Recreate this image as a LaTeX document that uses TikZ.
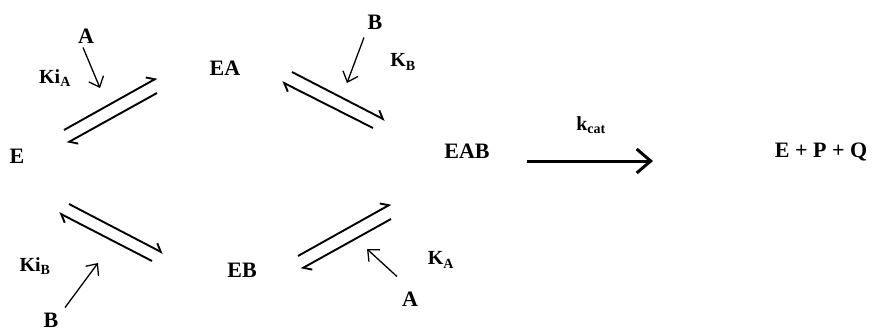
\documentclass[tikz,border=0pt]{standalone}
\usepackage{fontspec}
\setmainfont{Liberation Serif}
\usepackage{tikz}
\usetikzlibrary{arrows.meta}

\begin{document}
\begin{tikzpicture}[
  x=1pt, y=-1pt,
  species/.style={inner sep=0pt, font=\bfseries\fontsize{22}{26}\selectfont},
  konst/.style={inner sep=0pt, font=\bfseries\fontsize{20}{24}\selectfont},
  harp/.style={line width=1.9pt, -{Straight Barb[left, length=7pt, width=12pt]}},
  subarr/.style={line width=1.3pt, -{Straight Barb[length=9pt, width=16pt]}},
  catarr/.style={line width=3pt, -{Straight Barb[length=14pt, width=24pt]}},
]
\useasboundingbox (0,0) rectangle (877,332);

% ===== Species =====
\node[species] (E)    at (17,156)  {E};
\node[species] (EA)   at (225,68)  {EA};
\node[species] (EB)   at (242,270) {EB};
\node[species] (EAB)  at (467,151) {EAB};
\node[species] (prod) at (821,152) {E + P + Q};

% ===== Substrates and constants =====
\node[species] (subA1) at (86,36)   {A};
\node[konst]   (kiA)   at (55,78)   {Ki\textsubscript{A}};
\node[species] (subB1) at (375,22)  {B};
\node[konst]   (kB)    at (403,62)  {K\textsubscript{B}};
\node[konst]   (kiB)   at (35,266)  {Ki\textsubscript{B}};
\node[species] (subB2) at (51,320)  {B};
\node[konst]   (kA)    at (441,260) {K\textsubscript{A}};
\node[species] (subA2) at (410,299) {A};
\node[konst]   (kcat)  at (591,125) {k\textsubscript{cat}};

% ===== Harpoon end points =====
\coordinate (h1a) at (64,130);  \coordinate (h1b) at (157,78);
\coordinate (h1c) at (157,93);  \coordinate (h1d) at (67,143);
\coordinate (h2a) at (292,72);  \coordinate (h2b) at (385,120);
\coordinate (h2c) at (373,128); \coordinate (h2d) at (282,82);
\coordinate (h3a) at (69,204);  \coordinate (h3b) at (163,253);
\coordinate (h3c) at (152,261); \coordinate (h3d) at (59,213);
\coordinate (h4a) at (298,256); \coordinate (h4b) at (391,204);
\coordinate (h4c) at (391,219); \coordinate (h4d) at (301,269);

% ===== Equilibria =====
\draw[harp] (h1a) -- (h1b);
\draw[harp] (h1c) -- (h1d);
\draw[harp] (h2a) -- (h2b);
\draw[harp] (h2c) -- (h2d);
\draw[harp] (h3a) -- (h3b);
\draw[harp] (h3c) -- (h3d);
\draw[harp] (h4a) -- (h4b);
\draw[harp] (h4c) -- (h4d);

% ===== Substrate binding =====
\coordinate (pA1) at (100,88);
\coordinate (pB1) at (347,83);
\coordinate (pB2) at (98,263);
\coordinate (pA2) at (367,249);
\draw[subarr] (subA1.south) ++(-3,4) -- (pA1);
\draw[subarr] (subB1.south) ++(-11,8) -- (pB1);
\draw[subarr] (subB2.north) ++(14,-5) -- (pB2);
\draw[subarr] (subA2.north) ++(-13,-15) -- (pA2);

% ===== Catalysis =====
\coordinate (c1) at (527,161);
\coordinate (c2) at (653,161);
\draw[catarr] (c1) -- (c2);

\end{tikzpicture}
\end{document}
